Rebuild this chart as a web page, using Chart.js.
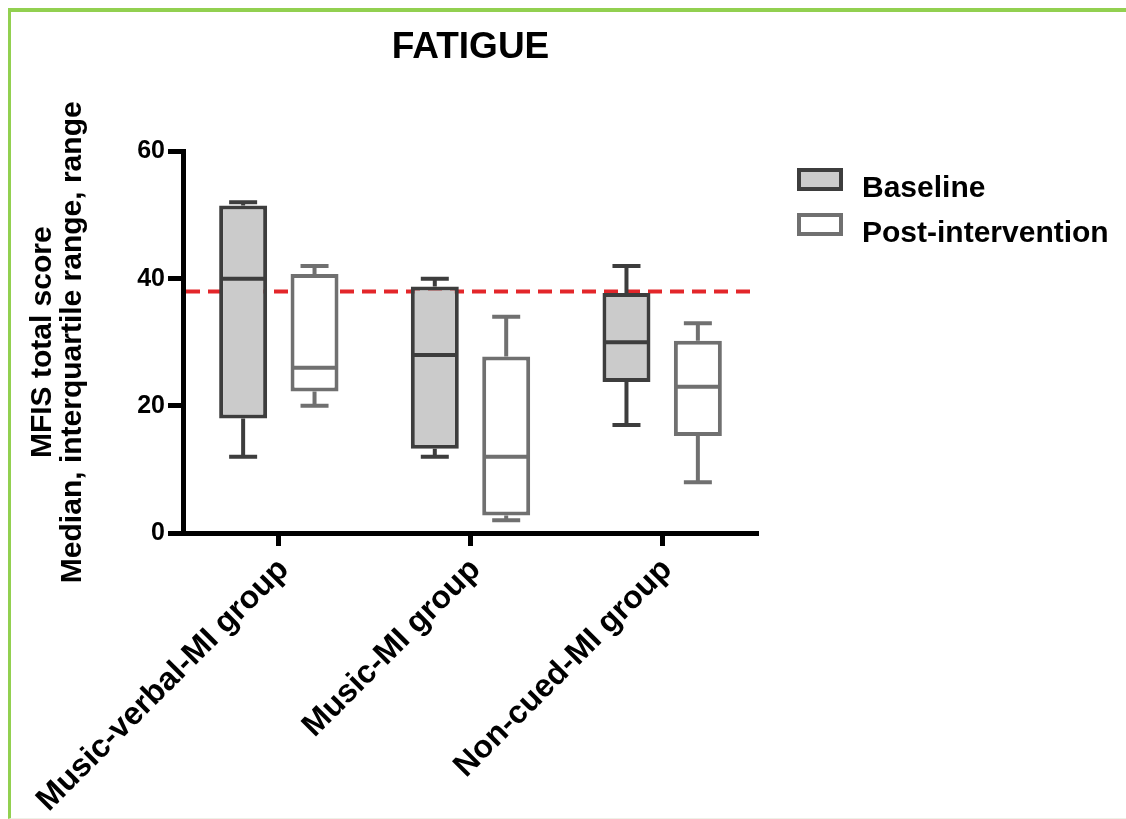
<!DOCTYPE html>
<html>
<head>
<meta charset="utf-8">
<title>FATIGUE</title>
<script src="https://cdn.jsdelivr.net/npm/chart.js@4.4.1/dist/chart.umd.min.js"></script>
<style>
  html, body { margin: 0; padding: 0; background: #ffffff; overflow: hidden; }
  #wrap { position: relative; width: 1126px; height: 819px; }
  #wrap canvas { position: absolute; left: 0; top: 0; }
  #frame {
    position: absolute; left: 8px; top: 8px; right: 0; bottom: 0;
    border-top: 4px solid #92d050; border-left: 3px solid #92d050;
    border-bottom: 1px solid #eef1e8;
    pointer-events: none;
  }
</style>
</head>
<body>
<div id="wrap">
  <canvas id="chart" width="1126" height="819"></canvas>
  <div id="frame"></div>
</div>
<script>
// Groups on the x axis
const groups = ['Music-verbal-MI group', 'Music-MI group', 'Non-cued-MI group'];

// Baseline: range and interquartile range of the MFIS total score
const baselineMin    = [12, 12, 17];
const baselineQ1     = [18, 13.25, 23.75];
const baselineMedian = [40, 28, 30];
const baselineQ3     = [51.5, 38.75, 37.75];
const baselineMax    = [52, 40, 42];

// Post-intervention
const postMin    = [20, 2, 8];
const postQ1     = [22.25, 2.75, 15.25];
const postMedian = [26, 12, 23];
const postQ3     = [40.75, 27.75, 30.25];
const postMax    = [42, 34, 33];

// Value axis ticks and the fatigue cut-off score
const yTicks = [0, 20, 40, 60];
const cutoff = 38;

const FONT = "'Liberation Sans', Arial, Helvetica, sans-serif";
Chart.defaults.font.family = FONT;
Chart.defaults.color = '#000000';

function stats(mins, q1s, meds, q3s, maxs) {
  return mins.map((m, i) => ({ min: m, q1: q1s[i], median: meds[i], q3: q3s[i], max: maxs[i] }));
}

// Whiskers, caps and median lines on top of each box
const boxDetails = {
  id: 'boxDetails',
  afterDatasetsDraw(chart) {
    const ctx = chart.ctx;
    const y = chart.scales.y;
    chart.data.datasets.forEach((ds, i) => {
      const meta = chart.getDatasetMeta(i);
      meta.data.forEach((bar, j) => {
        const s = ds.stats[j];
        const half = bar.width / 2;
        const cap = 14;
        const pMin = y.getPixelForValue(s.min);
        const pQ1 = y.getPixelForValue(s.q1);
        const pMed = y.getPixelForValue(s.median);
        const pQ3 = y.getPixelForValue(s.q3);
        const pMax = y.getPixelForValue(s.max);
        ctx.save();
        ctx.strokeStyle = ds.borderColor;
        ctx.lineWidth = 4;
        ctx.lineCap = 'butt';
        ctx.beginPath();
        ctx.moveTo(bar.x - half + 2, pMed);
        ctx.lineTo(bar.x + half - 2, pMed);
        // upper whisker
        ctx.moveTo(bar.x, pQ3);
        ctx.lineTo(bar.x, pMax);
        ctx.moveTo(bar.x - cap, pMax);
        ctx.lineTo(bar.x + cap, pMax);
        // lower whisker
        ctx.moveTo(bar.x, pQ1);
        ctx.lineTo(bar.x, pMin);
        ctx.moveTo(bar.x - cap, pMin);
        ctx.lineTo(bar.x + cap, pMin);
        ctx.stroke();
        ctx.restore();
      });
    });
  }
};

// Dashed reference line at the cut-off, drawn beneath the boxes
const cutoffLine = {
  id: 'cutoffLine',
  beforeDatasetsDraw(chart) {
    const ctx = chart.ctx;
    const area = chart.chartArea;
    const py = chart.scales.y.getPixelForValue(cutoff);
    ctx.save();
    ctx.strokeStyle = '#e3262a';
    ctx.lineWidth = 4;
    ctx.setLineDash([14, 8]);
    ctx.beginPath();
    ctx.moveTo(area.left + 3, py);
    ctx.lineTo(area.right, py);
    ctx.stroke();
    ctx.restore();
  }
};

// Legend to the right of the plot
const sideLegend = {
  id: 'sideLegend',
  afterDraw(chart) {
    const ctx = chart.ctx;
    const x0 = 799, w = 42, h = 19, textX = 862;
    chart.data.datasets.forEach((ds, i) => {
      const top = 170 + i * 45;
      ctx.save();
      ctx.fillStyle = ds.backgroundColor;
      ctx.fillRect(x0, top, w, h);
      ctx.strokeStyle = ds.borderColor;
      ctx.lineWidth = 4;
      ctx.strokeRect(x0, top, w, h);
      ctx.fillStyle = '#000000';
      ctx.font = "bold 30px " + FONT;
      ctx.textAlign = 'left';
      ctx.textBaseline = 'alphabetic';
      ctx.fillText(ds.label, textX, 197 + i * 45);
      ctx.restore();
    });
  }
};

new Chart(document.getElementById('chart'), {
  type: 'bar',
  data: {
    labels: groups,
    datasets: [
      {
        label: 'Baseline',
        data: groups.map((_, i) => [baselineQ1[i], baselineQ3[i]]),
        stats: stats(baselineMin, baselineQ1, baselineMedian, baselineQ3, baselineMax),
        backgroundColor: '#cbcbcb',
        borderColor: '#3d3d3d',
        borderWidth: 4,
        borderSkipped: false,
        categoryPercentage: 0.745,
        barPercentage: 0.672
      },
      {
        label: 'Post-intervention',
        data: groups.map((_, i) => [postQ1[i], postQ3[i]]),
        stats: stats(postMin, postQ1, postMedian, postQ3, postMax),
        backgroundColor: '#ffffff',
        borderColor: '#707070',
        borderWidth: 4,
        borderSkipped: false,
        categoryPercentage: 0.745,
        barPercentage: 0.672
      }
    ]
  },
  options: {
    responsive: false,
    animation: false,
    events: [],
    layout: { padding: { left: 12, right: 368, top: 0, bottom: 0 } },
    plugins: {
      legend: { display: false },
      tooltip: { enabled: false },
      title: {
        display: true,
        text: 'FATIGUE',
        fullSize: false,
        color: '#000000',
        font: { family: FONT, size: 37, weight: 'bold', lineHeight: 1.2 },
        padding: { top: 26, bottom: 81.1 }
      }
    },
    scales: {
      x: {
        offset: true,
        grid: {
          display: true, drawOnChartArea: false, drawTicks: true, offset: false,
          tickLength: 13, tickWidth: 5, tickColor: '#000000', color: '#000000'
        },
        border: { display: true, color: '#000000', width: 5 },
        ticks: {
          color: '#000000', autoSkip: false, minRotation: 45, maxRotation: 45,
          padding: 5, labelOffset: 5,
          font: { family: FONT, size: 32, weight: 'bold' }
        },
        afterFit(s) { s.height = 286; s.paddingLeft = 0; s.paddingRight = 0; }
      },
      y: {
        min: 0,
        max: 60,
        afterBuildTicks(s) { s.ticks = yTicks.map(v => ({ value: v })); },
        grid: {
          display: true, drawOnChartArea: false, drawTicks: true,
          tickLength: 15, tickWidth: 5, tickColor: '#000000', color: '#000000'
        },
        border: { display: true, color: '#000000', width: 5 },
        ticks: {
          color: '#000000', padding: 3,
          font: { family: FONT, size: 25, weight: 'bold' }
        },
        title: {
          display: true,
          text: ['MFIS total score', 'Median, interquartile range, range'],
          color: '#000000',
          font: { family: FONT, size: 30, weight: 'bold', lineHeight: 1.0 },
          padding: { top: 16, bottom: 0 }
        },
        afterFit(s) { s.width = 171; }
      }
    }
  },
  plugins: [cutoffLine, boxDetails, sideLegend]
});
</script>
</body>
</html>
